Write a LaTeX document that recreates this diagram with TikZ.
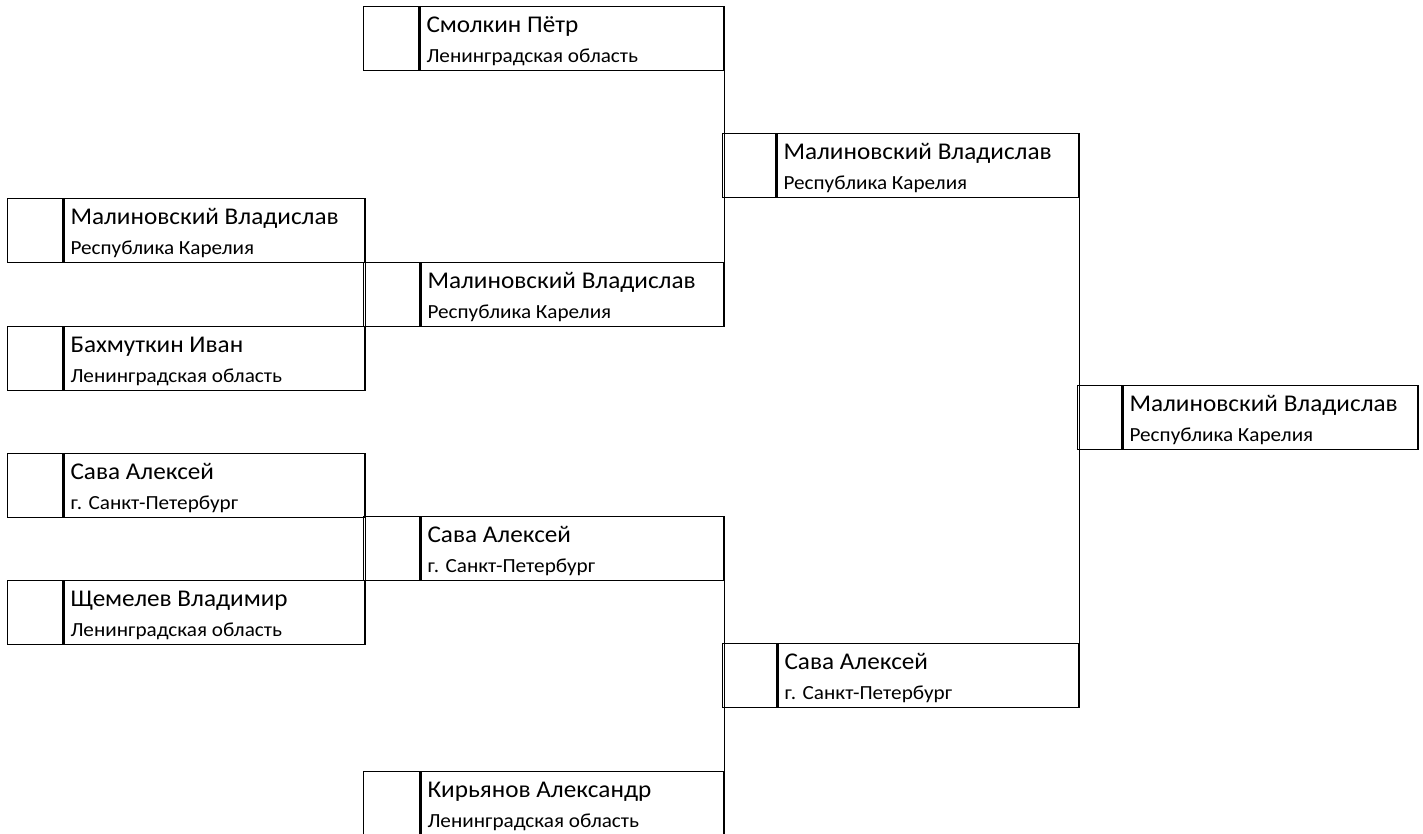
\documentclass[tikz,border=0pt]{standalone}
\usepackage{fontspec}
\setmainfont{Carlito}
\newfontfamily\playerfont[FakeStretch=1.05]{Carlito}
\newfontfamily\regionfont[FakeStretch=1.06]{Carlito}
\usetikzlibrary{positioning}

\begin{document}
\begin{tikzpicture}[x=1pt,y=-1pt,
  seedcell/.style={draw, line width=1.3pt, minimum width=#1, minimum height=64pt, inner sep=0pt, anchor=north west},
  entrybox/.style={draw, line width=1.3pt, minimum width=#1, minimum height=64pt, inner sep=0pt},
  namelbl/.style={anchor=base west, inner sep=0pt, font=\playerfont\fontsize{24}{28}\selectfont},
  reglbl/.style={anchor=base west, inner sep=0pt, font=\regionfont\fontsize{20}{24}\selectfont},
  bracket/.style={line width=1.3pt}]
\useasboundingbox (0,0) rectangle (1423,833);
\clip (0,0) rectangle (1423,833);
% id / left / top / seed width / box width / player / region
\foreach \id/\x/\y/\s/\w/\pl/\reg in {
  smolkin/363/6/55pt/304pt/Смолкин Пётр/Ленинградская область,
  malinsf/722/133/53pt/302pt/Малиновский Владислав/Республика Карелия,
  malinq/7/198/55pt/301pt/Малиновский Владислав/Республика Карелия,
  malinqf/363/262/56pt/303pt/Малиновский Владислав/Республика Карелия,
  bakhm/7/326/55pt/301pt/Бахмуткин Иван/Ленинградская область,
  final/1077/385/44pt/295pt/Малиновский Владислав/Республика Карелия,
  savaq/7/453/55pt/301pt/Сава Алексей/г. Санкт-Петербург,
  savaqf/363/516/56pt/303pt/Сава Алексей/г. Санкт-Петербург,
  shchem/7/580/55pt/301pt/Щемелев Владимир/Ленинградская область,
  savasf/722/643/54pt/301pt/Сава Алексей/г. Санкт-Петербург,
  kiryan/363/771/56pt/303pt/Кирьянов Александр/Ленинградская область}
{
  \node[seedcell=\s] (\id s) at (\x,\y) {};
  \node[entrybox=\w, right=0pt of \id s] (\id) {};
  \node[namelbl] at ([xshift=7pt,yshift=-26.5pt]\id.north west) {\pl};
  \node[reglbl] at ([xshift=7pt,yshift=-56pt]\id.north west) {\reg};
}
% bracket lines
\draw[bracket] (smolkin.south east) -- (malinqf.north east);
\draw[bracket] (malinq.south east) -- (bakhm.north east);
\draw[bracket] (savaq.south east) -- (shchem.north east);
\draw[bracket] (savaqf.south east) -- (kiryan.north east);
\draw[bracket] (malinsf.south east) -- (savasf.north east);
\end{tikzpicture}
\end{document}
